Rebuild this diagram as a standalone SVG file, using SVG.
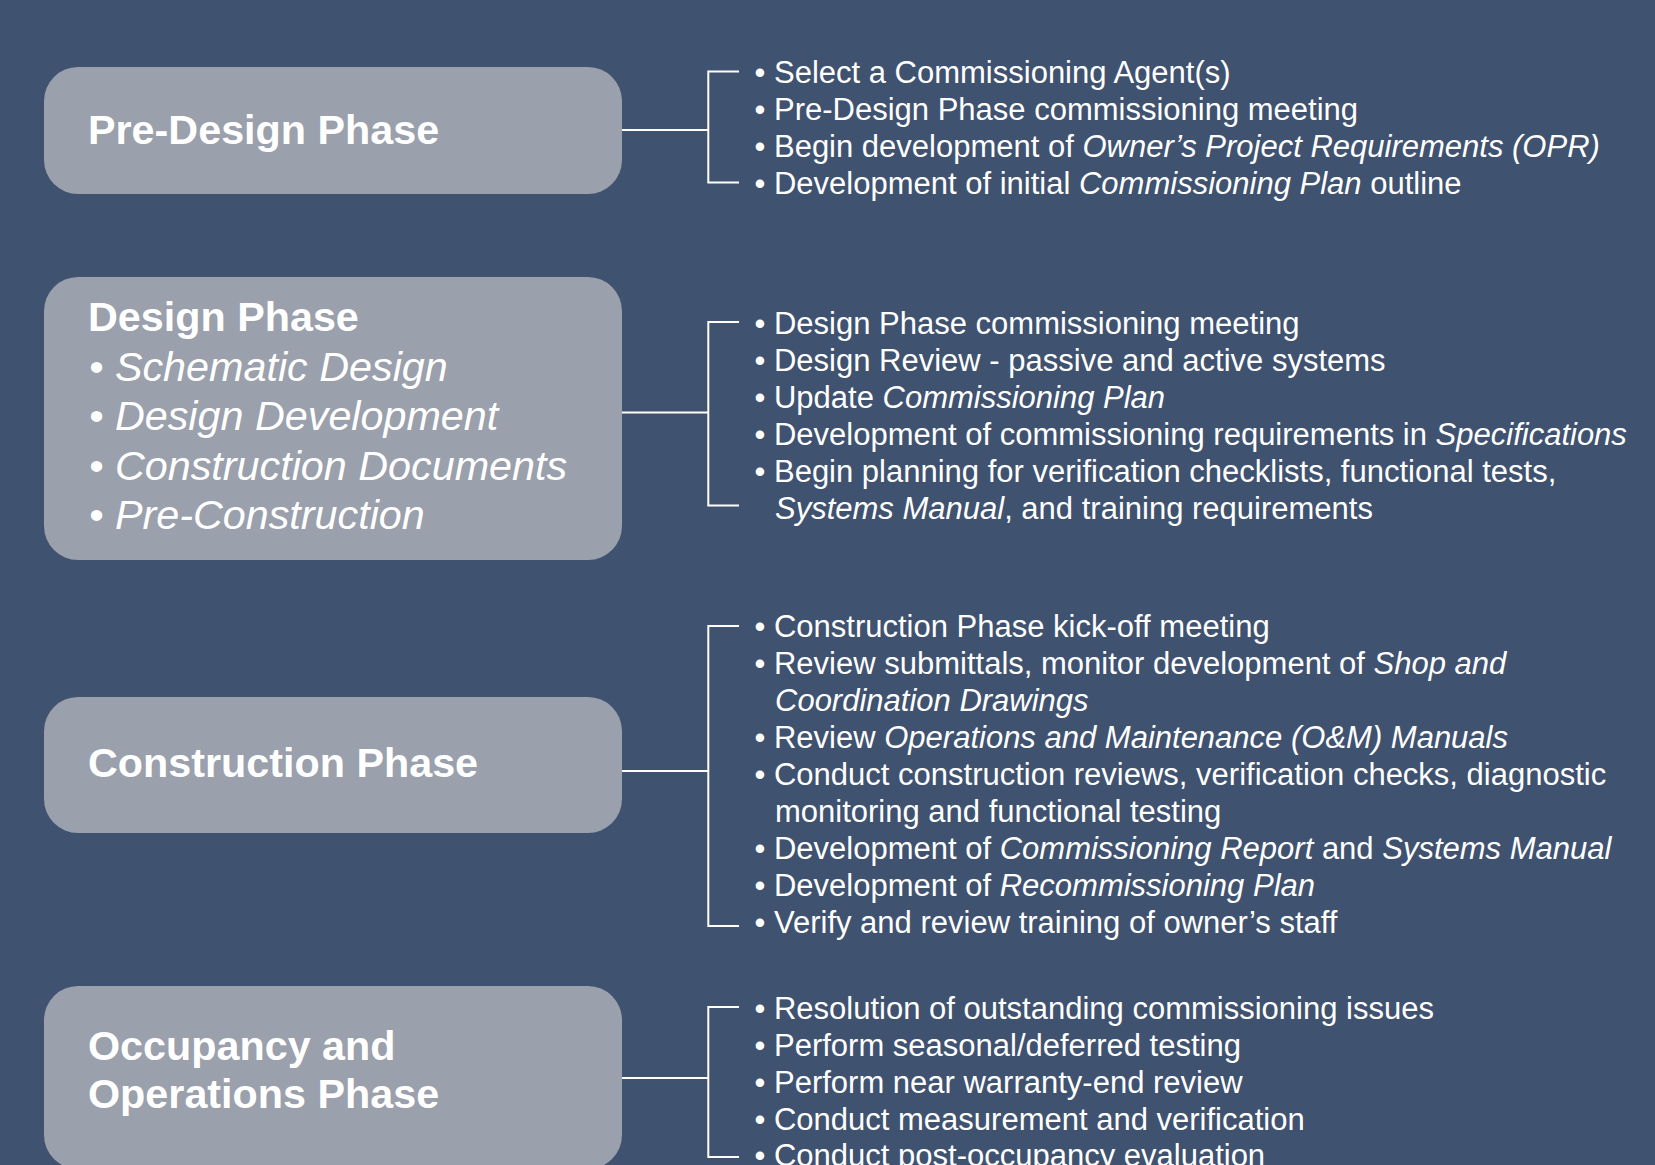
<svg xmlns="http://www.w3.org/2000/svg" width="1655" height="1165" viewBox="0 0 1655 1165">
<style>
.bg{fill:#3f526f}
.box{fill:#9aa0ac}
.title{font-family:"Liberation Sans",Arial,sans-serif;font-weight:bold;font-size:41.3px;fill:#ffffff}
.sub{font-family:"Liberation Sans",Arial,sans-serif;font-style:italic;font-size:41.3px;fill:#ffffff}
.item{font-family:"Liberation Sans",Arial,sans-serif;font-size:31px;fill:#ffffff}
.it{font-style:italic}
.conn{fill:none;stroke:#ffffff;stroke-width:2}
</style>
<rect class="bg" x="0" y="0" width="1655" height="1165"/>

<g id="node-predesign">
<rect class="box" x="44" y="67" width="578" height="127" rx="34" ry="34"/>
<text class="title" x="88" y="144">Pre-Design Phase</text>
</g>

<g id="node-design">
<rect class="box" x="44" y="277" width="578" height="283" rx="34" ry="34"/>
<text class="title" x="88" y="331">Design Phase</text>
<text class="sub" x="89" y="380.5">• Schematic Design</text>
<text class="sub" x="89" y="430">• Design Development</text>
<text class="sub" x="89" y="479.5">• Construction Documents</text>
<text class="sub" x="89" y="529">• Pre-Construction</text>
</g>

<g id="node-construction">
<rect class="box" x="44" y="697" width="578" height="136" rx="34" ry="34"/>
<text class="title" x="88" y="776.5">Construction Phase</text>
</g>

<g id="node-occupancy">
<rect class="box" x="44" y="986" width="578" height="183" rx="34" ry="34"/>
<text class="title" x="88" y="1060">Occupancy and</text>
<text class="title" x="88" y="1108">Operations Phase</text>
</g>

<g id="connectors">
<path class="conn" d="M622,130 H708.3 M739,71.5 H708.3 V182.5 H739"/>
<path class="conn" d="M622,412.5 H708.3 M739,322 H708.3 V505.5 H739"/>
<path class="conn" d="M622,771 H708.3 M739,626 H708.3 V926 H739"/>
<path class="conn" d="M622,1078 H708.3 M739,1007 H708.3 V1157 H739"/>
</g>

<g id="list-predesign" class="item">
<text x="754.5" y="82.5">• Select a Commissioning Agent(s)</text>
<text x="754.5" y="119.5">• Pre-Design Phase commissioning meeting</text>
<text x="754.5" y="156.5">• Begin development of <tspan class="it">Owner’s Project Requirements (OPR)</tspan></text>
<text x="754.5" y="193.5">• Development of initial <tspan class="it">Commissioning Plan</tspan> outline</text>
</g>

<g id="list-design" class="item">
<text x="754.5" y="333.5">• Design Phase commissioning meeting</text>
<text x="754.5" y="370.5">• Design Review - passive and active systems</text>
<text x="754.5" y="407.5">• Update <tspan class="it">Commissioning Plan</tspan></text>
<text x="754.5" y="444.5">• Development of commissioning requirements in <tspan class="it">Specifications</tspan></text>
<text x="754.5" y="481.5">• Begin planning for verification checklists, functional tests,</text>
<text x="775" y="518.5"><tspan class="it">Systems Manual</tspan>, and training requirements</text>
</g>

<g id="list-construction" class="item">
<text x="754.5" y="636.5">• Construction Phase kick-off meeting</text>
<text x="754.5" y="673.6">• Review submittals, monitor development of <tspan class="it">Shop and</tspan></text>
<text x="775" y="710.7" class="it">Coordination Drawings</text>
<text x="754.5" y="747.8">• Review <tspan class="it">Operations and Maintenance (O&amp;M) Manuals</tspan></text>
<text x="754.5" y="784.9">• Conduct construction reviews, verification checks, diagnostic</text>
<text x="775" y="822">monitoring and functional testing</text>
<text x="754.5" y="859.1">• Development of <tspan class="it">Commissioning Report</tspan> and <tspan class="it">Systems Manual</tspan></text>
<text x="754.5" y="896.2">• Development of <tspan class="it">Recommissioning Plan</tspan></text>
<text x="754.5" y="933.3">• Verify and review training of owner’s staff</text>
</g>

<g id="list-occupancy" class="item">
<text x="754.5" y="1018.5">• Resolution of outstanding commissioning issues</text>
<text x="754.5" y="1055.5">• Perform seasonal/deferred testing</text>
<text x="754.5" y="1092.5">• Perform near warranty-end review</text>
<text x="754.5" y="1129.5">• Conduct measurement and verification</text>
<text x="754.5" y="1166">• Conduct post-occupancy evaluation</text>
</g>
</svg>
